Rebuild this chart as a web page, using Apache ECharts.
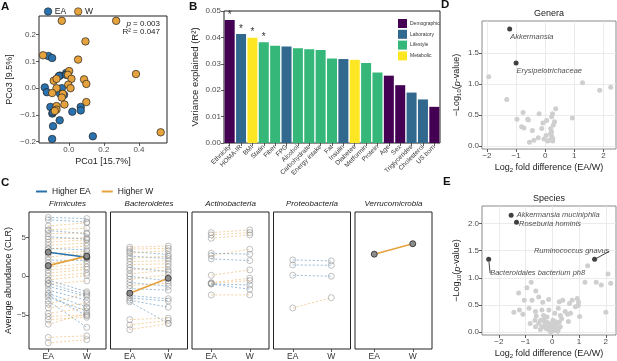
<!DOCTYPE html>
<html lang="en">
<head>
<meta charset="utf-8">
<title>Microbiome panels</title>
<script src="https://cdn.jsdelivr.net/npm/echarts@6/dist/echarts.min.js"></script>
<style>
html, body { margin: 0; padding: 0; background: #fff; }
#main { width: 617px; height: 361px; }
</style>
</head>
<body>
<div id="main"></div>
<script>
// A - PCoA
var pcoaEA = [[-0.116,0.120],[-0.095,0.113],[-0.137,0.003],[-0.125,-0.015],[-0.051,0.047],[-0.057,0.045],[-0.015,0.057],[-0.015,0.050],[-0.040,0.000],[-0.050,-0.020],[-0.027,-0.025],[-0.105,-0.070],[-0.094,-0.095],[-0.090,-0.090],[-0.052,-0.120],[-0.090,-0.142],[0.020,-0.088],[0.068,-0.070],[0.068,-0.083],[0.137,-0.180],[-0.095,-0.190]];
var pcoaW = [[-0.040,0.252],[0.270,0.252],[0.095,0.175],[-0.147,0.123],[0.053,0.107],[0.383,0.053],[0.002,0.064],[-0.005,0.050],[-0.086,0.028],[-0.070,0.035],[0.015,0.035],[0.087,0.033],[0.100,0.016],[-0.003,0.013],[-0.070,0.000],[0.010,0.000],[-0.034,-0.021],[-0.095,-0.018],[-0.040,-0.035],[-0.025,-0.061],[0.100,-0.052],[-0.070,-0.067],[-0.070,-0.080],[-0.080,-0.085],[0.524,-0.165]];

// B - variance explained
var varNames = ['Ethnicity','HOMA-IR','BMI','Statin','Fiber','FPG','Alcohol','Carbohydrate','Energy intake','Fat','Insulin','Diabetes','Metformin','Protein','Age','Sex','Triglycerides','Cholesterol','US born'];
var varR2 = [0.0466,0.0413,0.0399,0.0382,0.0368,0.0366,0.0359,0.0355,0.0352,0.0320,0.0318,0.0315,0.0303,0.0267,0.0255,0.0219,0.0191,0.0165,0.0137];
var varGroup = [0,1,3,2,2,1,2,2,2,2,1,3,2,2,0,0,1,1,0];
var varSig = [1,1,1,1,0,0,0,0,0,0,0,0,0,0,0,0,0,0,0];
var groupNames = ['Demographic','Laboratory','Lifestyle','Metabolic'];

// C - phylum abundances [EA, W]
var phyla = ['Firmicutes','Bacteroidetes','Actinobacteria','Proteobacteria','Verrucomicrobia'];
var firPairs = [[7.6,7.45],[7.3,7.0],[6.5,6.9],[6.0,6.2],[5.9,5.5],[5.5,5.6],[5.1,4.8],[4.8,5.0],[4.4,4.7],[4.0,4.3],[3.6,3.4],[3.5,3.9],[2.9,3.2],[2.5,2.9],[2.1,2.0],[1.7,2.3],[1.2,1.6],[0.8,1.2],[0.4,0.9],[0.0,0.4],[-0.5,0.1],[-1.0,-0.6],[-0.5,-2.0],[-0.9,-2.4],[-1.3,-2.6],[-1.8,-3.1],[-2.2,-4.0],[-2.4,-5.1],[-2.7,-4.5],[-3.2,-6.6],[-3.6,-2.2],[-4.1,-3.5],[-4.8,-4.1],[-5.2,-5.0],[-5.6,-5.3],[-6.2,-4.8],[-7.9,-7.7],[-8.6,-8.2]];
var bacPairs = [[3.75,3.9],[3.5,3.6],[3.2,2.8],[3.0,3.3],[2.6,2.3],[2.3,2.6],[1.9,2.0],[1.5,1.6],[1.1,0.6],[0.8,1.2],[0.3,0.8],[0.0,-0.6],[-0.4,0.2],[-0.8,-1.3],[-1.2,-0.9],[-1.6,-1.8],[-2.5,-2.9],[-2.8,-3.2],[-3.1,-4.0],[-3.3,-6.1],[-5.6,-5.4],[-6.3,-5.7],[-6.9,-6.1]];
var actPairs = [[5.64,5.99],[5.34,5.64],[4.91,5.34],[2.67,3.49],[2.97,2.85],[2.24,2.02],[0.13,0.82],[-0.83,-0.26],[-0.9,-0.57],[-0.99,-1.13],[-1.0,-1.68],[-2.42,-2.40]];
var proPairs = [[2.11,1.98],[1.46,1.42],[0.13,0.0],[-4.1,-2.77]];
var verPairs = [];
var hiPhylum = [0, 0, 1, 4];
var hiPairs = [[3.1,2.46],[1.37,2.6],[-2.2,-0.26],[2.85,4.2]];

// D - genera volcano [log2 FD, -log10 p]
var genGrey = [[-1.94,1.12],[-1.32,0.75],[1.28,1.02],[1.87,0.90],[2.25,0.95],[0.93,0.45],[-0.76,0.54],[-0.97,0.43],[-0.6,0.43],[-0.58,0.42],[-0.21,0.52],[0.36,0.60],[0.25,0.52],[0.22,0.47],[0.05,0.41],[-0.08,0.37],[0.32,0.39],[0.28,0.34],[-0.81,0.31],[-0.73,0.29],[-0.44,0.25],[-0.12,0.28],[0.19,0.28],[0.22,0.23],[0.22,0.16],[0.03,0.17],[-0.04,0.11],[0.08,0.08],[0.26,0.12],[-0.24,0.13],[-0.39,0.09],[-0.54,0.06],[0.26,0.08],[0.15,0.09],[0.18,0.20]];
var genHit = [[-1.22,1.89],[-1.0,1.34]];
var genHitNames = ['Akkermansia','Erysipelotrichaceae'];

// E - species volcano
var spGrey = [[1.32,1.22],[2.08,1.07],[1.22,0.92],[1.64,0.92],[1.83,0.87],[2.18,0.90],[-0.79,0.92],[-0.95,0.82],[-1.26,0.72],[-0.62,0.76],[-1.05,0.59],[-0.76,0.59],[-0.51,0.65],[-0.36,0.55],[-0.14,0.60],[0.26,0.56],[0.39,0.59],[0.74,0.59],[0.93,0.62],[0.98,0.55],[0.97,0.49],[0.64,0.53],[0.86,0.47],[-1.44,0.37],[-1.23,0.41],[-1.10,0.33],[-0.87,0.44],[-0.63,0.38],[-0.39,0.41],[-0.33,0.31],[-0.13,0.41],[0.22,0.44],[0.09,0.35],[0.48,0.38],[0.57,0.33],[0.68,0.35],[1.02,0.29],[0.30,0.31],[2.00,0.37],[-0.65,0.22],[-0.51,0.16],[-0.63,0.10],[-0.31,0.23],[-0.18,0.18],[-0.07,0.12],[0.02,0.22],[0.14,0.16],[-0.39,0.10],[-0.23,0.07],[-0.14,0.05],[-0.01,0.06],[0.11,0.09],[0.22,0.05],[0.04,0.13],[-0.26,0.15],[-0.06,0.01],[0.26,0.19],[-0.44,0.22],[-0.83,0.16],[-0.25,0.08],[-0.10,0.10],[0.05,0.03],[0.15,0.12],[-0.30,0.20],[0.10,0.20],[-0.05,0.15],[0.30,0.10],[-0.45,0.05],[0.20,0.02],[0.00,0.08],[-0.20,0.28],[0.35,0.25],[-0.60,0.30],[0.60,0.20]];
var spHit = [[-1.54,2.15],[-1.34,2.02]];
var spHitNames = ['Akkermansia muciniphila','Roseburia hominis'];
var spHitLinked = [[-2.38,1.34],[1.58,1.34]];
var spHitLinkedNames = ['Bacteroidales bacterium ph8','Ruminococcus gnavus'];

var FONT = '"Liberation Sans", Arial, sans-serif';
var BLUE = '#2a72ad', ORANGE = '#e6a23c';
var groupColors = ['#440154', '#31688e', '#35b779', '#fde725'];

function fmt(d) {
    return function (v) { return (v < 0 ? '\u2212' : '') + Math.abs(v).toFixed(d); };
}
function vAxis(grid, min, max, ticks, dec, extra) {
    var ax = {
        type: 'value', gridIndex: grid, min: min, max: max,
        axisLine: { show: false, onZero: false },
        axisTick: { show: true, length: 3, lineStyle: { color: '#333', width: 0.8 }, customValues: ticks },
        axisLabel: { show: true, fontSize: 8, color: '#4d4d4d', fontFamily: FONT, margin: 3, customValues: ticks, formatter: fmt(dec) },
        splitLine: { show: false },
        nameLocation: 'middle',
        nameTextStyle: { fontSize: 9, color: '#222', fontFamily: FONT }
    };
    for (var k in extra) ax[k] = extra[k];
    return ax;
}
function gridBox(l, t, w, h, col) {
    return { left: l, top: t, width: w, height: h, show: true, borderColor: col, borderWidth: 1, backgroundColor: 'transparent', containLabel: false, outerBoundsMode: 'none' };
}

var facetLeft = [29, 110.5, 192, 273.5, 355];
var grids = [gridBox(39, 16, 128, 127, '#222'), gridBox(224, 11, 216, 132, '#222')];
facetLeft.forEach(function (l) { grids.push(gridBox(l, 212, 77, 137, '#222')); });
grids.push(gridBox(482, 21, 134, 128, '#8a8a8a'));
grids.push(gridBox(482, 206, 134, 129, '#8a8a8a'));

var xAxes = [], yAxes = [];
// A
xAxes.push(vAxis(0, -0.17, 0.56, [0, 0.2, 0.4], 1, { name: 'PCo1 [15.7%]', nameGap: 14 }));
yAxes.push(vAxis(0, -0.205, 0.27, [-0.2, -0.1, 0, 0.1, 0.2], 1, { name: 'PCo3 [9.5%]', nameGap: 25 }));
// B
xAxes.push({
    type: 'category', gridIndex: 1, data: varNames,
    axisLine: { show: false, onZero: false },
    axisTick: { show: true, alignWithLabel: true, length: 3, lineStyle: { color: '#333', width: 0.8 } },
    axisLabel: { interval: 0, rotate: 45, fontSize: 6.5, color: '#333', fontFamily: FONT, margin: 3 }
});
yAxes.push(vAxis(1, 0, 0.05, [0, 0.01, 0.02, 0.03, 0.04, 0.05], 2, {
    name: 'Variance explained (R\u00b2)', nameGap: 24,
    nameTextStyle: { fontSize: 9.5, color: '#222', fontFamily: FONT }
}));
// C facets
phyla.forEach(function (p, f) {
    xAxes.push({
        type: 'category', gridIndex: 2 + f, data: ['EA', 'W'], boundaryGap: true,
        axisLine: { show: false, onZero: false },
        axisTick: { show: true, alignWithLabel: true, length: 3, lineStyle: { color: '#333', width: 0.8 } },
        axisLabel: { fontSize: 8.5, color: '#333', fontFamily: FONT, margin: 3 }
    });
    var ya = vAxis(2 + f, -9.4, 8.3, [-5, 0, 5], 0, {});
    if (f === 0) {
        ya.name = 'Average abundance (CLR)';
        ya.nameGap = 13;
    } else {
        ya.axisTick = { show: false };
        ya.axisLabel = { show: false };
    }
    yAxes.push(ya);
});
// D, E
var majorGrid = { show: true, lineStyle: { color: '#e6e6e6', width: 0.8 } };
xAxes.push(vAxis(7, -2.17, 2.43, [-2, -1, 0, 1, 2], 0, { name: 'Log{s|2} fold difference (EA/W)', nameGap: 14, splitLine: majorGrid }));
yAxes.push(vAxis(7, -0.05, 2.02, [0, 0.5, 1, 1.5], 1, { name: '\u2212Log{s|10}({i|p}-value)', nameGap: 20, splitLine: majorGrid }));
xAxes.push(vAxis(8, -2.63, 2.38, [-2, -1, 0, 1, 2], 0, { name: 'Log{s|2} fold difference (EA/W)', nameGap: 14, splitLine: majorGrid }));
yAxes.push(vAxis(8, -0.05, 2.32, [0, 0.5, 1, 1.5, 2], 1, { name: '\u2212Log{s|10}({i|p}-value)', nameGap: 20, splitLine: majorGrid }));
[7, 8].forEach(function (g) {
    var rich = { s: { fontSize: 6, verticalAlign: 'bottom', padding: [4, 0, 0, 0], fontFamily: FONT, color: '#222' }, i: { fontStyle: 'italic', fontSize: 9, fontFamily: FONT, color: '#222' } };
    xAxes[g].nameTextStyle = { fontSize: 9, color: '#222', fontFamily: FONT, rich: rich };
    yAxes[g].nameTextStyle = { fontSize: 9, color: '#222', fontFamily: FONT, rich: rich };
});

var series = [];
// A scatter
series.push({ type: 'scatter', name: 'EA', xAxisIndex: 0, yAxisIndex: 0, data: pcoaEA, symbolSize: 7.5, itemStyle: { color: BLUE, borderColor: '#222', borderWidth: 0.7, opacity: 1 } });
series.push({ type: 'scatter', name: 'W', xAxisIndex: 0, yAxisIndex: 0, data: pcoaW, symbolSize: 7.5, itemStyle: { color: ORANGE, borderColor: '#222', borderWidth: 0.7, opacity: 1 } });
// B bars
groupNames.forEach(function (gn, g) {
    series.push({
        type: 'bar', name: gn, stack: 'r2', xAxisIndex: 1, yAxisIndex: 1, barCategoryGap: '12%',
        itemStyle: { color: groupColors[g] },
        label: { show: false, position: 'top', formatter: '*', fontSize: 10, color: '#333', distance: 0 },
        data: varR2.map(function (v, i) {
            if (varGroup[i] !== g) return '-';
            return varSig[i] ? { value: v, label: { show: true } } : v;
        })
    });
});
// C dashed pairs
[firPairs, bacPairs, actPairs, proPairs, verPairs].forEach(function (pairs, f) {
    pairs.forEach(function (p, j) {
        var c = p[0] > p[1] ? 'rgba(42,114,173,0.55)' : 'rgba(230,162,60,0.55)';
        series.push({
            type: 'line', name: 'c' + f + '_' + j, xAxisIndex: 2 + f, yAxisIndex: 2 + f, data: p,
            symbol: 'circle', symbolSize: 6, showSymbol: true, silent: true,
            itemStyle: { color: 'rgba(255,255,255,0)', borderColor: 'rgba(140,140,140,0.6)', borderWidth: 0.9 },
            lineStyle: { color: c, width: 0.9, type: [2, 2] }
        });
    });
});
hiPairs.forEach(function (p, j) {
    var up = p[1] > p[0];
    series.push({
        type: 'line', name: up ? 'Higher W' : 'Higher EA', xAxisIndex: 2 + hiPhylum[j], yAxisIndex: 2 + hiPhylum[j], data: p,
        symbol: 'circle', symbolSize: 6, z: 5,
        itemStyle: { color: '#8c8c8c', borderColor: '#333', borderWidth: 0.9 },
        lineStyle: { color: up ? ORANGE : BLUE, width: 1.6 }
    });
});
// D
series.push({ type: 'scatter', name: 'dGrey', xAxisIndex: 7, yAxisIndex: 7, data: genGrey, symbolSize: 5, itemStyle: { color: '#cfcfcf', opacity: 1 } });
var dLabelPos = [[3, 6.5], [3, 6]];
series.push({
    type: 'scatter', name: 'dHit', xAxisIndex: 7, yAxisIndex: 7, symbolSize: 5, itemStyle: { color: '#111' },
    data: genHit.map(function (d, i) {
        return { value: d, label: { show: true, formatter: genHitNames[i], position: dLabelPos[i], align: 'left', verticalAlign: 'top' } };
    }),
    label: { fontSize: 7.5, fontStyle: 'italic', color: '#222', fontFamily: FONT }
});
// E
series.push({ type: 'scatter', name: 'eGrey', xAxisIndex: 8, yAxisIndex: 8, data: spGrey, symbolSize: 5, itemStyle: { color: '#cfcfcf', opacity: 1 } });
var eLabelPos = [[8, 2.5], [5, 4.5]];
series.push({
    type: 'scatter', name: 'eHit', xAxisIndex: 8, yAxisIndex: 8, symbolSize: 5, itemStyle: { color: '#111' },
    data: spHit.map(function (d, i) {
        return { value: d, label: { show: true, formatter: spHitNames[i], position: eLabelPos[i], align: 'left', verticalAlign: 'middle' } };
    }),
    label: { fontSize: 7.5, fontStyle: 'italic', color: '#222', fontFamily: FONT }
});
var eShift = [[49, 14], [-23, -8]];
series.push({
    type: 'scatter', name: 'eHit2', xAxisIndex: 8, yAxisIndex: 8, symbolSize: 5, itemStyle: { color: '#111' },
    data: spHitLinked.map(function (d, i) { return { value: d, name: spHitLinkedNames[i] }; }),
    label: { show: true, position: 'inside', formatter: '{b}', fontSize: 7.5, fontStyle: 'italic', color: '#222', fontFamily: FONT },
    labelLine: { show: true, lineStyle: { color: '#111', width: 0.8 } },
    labelLayout: function (params) { return { dx: eShift[params.dataIndex][0], dy: eShift[params.dataIndex][1] }; }
});

var graphics = [];
[['A', 1, 0.5], ['B', 189, 0.5], ['C', 1, 177], ['D', 441, -1], ['E', 443, 176]].forEach(function (t) {
    graphics.push({ type: 'text', left: t[1], top: t[2], style: { text: t[0], fontSize: 11.5, fontWeight: 'bold', fill: '#111', fontFamily: FONT } });
});
graphics.push({ type: 'text', x: 160, y: 20, style: { text: '{i|p} = 0.003', align: 'right', fontSize: 8, fill: '#222', fontFamily: FONT, rich: { i: { fontStyle: 'italic', fontSize: 8, fontFamily: FONT } } } });
graphics.push({ type: 'text', x: 160, y: 28, style: { text: 'R\u00b2 = 0.047', align: 'right', fontSize: 8, fill: '#222', fontFamily: FONT } });
graphics.push({ type: 'text', x: 549, y: 9.5, style: { text: 'Genera', align: 'center', fontSize: 9, fill: '#222', fontFamily: FONT } });
graphics.push({ type: 'text', x: 549, y: 194.5, style: { text: 'Species', align: 'center', fontSize: 9, fill: '#222', fontFamily: FONT } });
phyla.forEach(function (p, f) {
    graphics.push({ type: 'text', x: facetLeft[f] + 38.5, y: 199.5, style: { text: p, align: 'center', fontSize: 8, fontStyle: 'italic', fill: '#222', fontFamily: FONT } });
});

var option = {
    animation: false,
    backgroundColor: '#fff',
    textStyle: { fontFamily: FONT },
    grid: grids,
    xAxis: xAxes,
    yAxis: yAxes,
    legend: [{
        data: ['EA', 'W'], left: 39, top: 2, itemWidth: 7.5, itemHeight: 7.5, itemGap: 8, icon: 'circle', selectedMode: false,
        itemStyle: { borderWidth: 0.6, borderColor: '#222' },
        textStyle: { fontSize: 8.5, color: '#222', fontFamily: FONT, padding: [0, 0, 0, -2] }
    }, {
        data: groupNames, left: 393, top: 14, orient: 'vertical', itemWidth: 9, itemHeight: 9, itemGap: 1.8, icon: 'rect', selectedMode: false,
        textStyle: { fontSize: 5, color: '#333', fontFamily: FONT, padding: [0, 0, 0, -2] }
    }, {
        data: [
            { name: 'Higher EA', itemStyle: { color: BLUE, borderColor: BLUE, borderWidth: 0 } },
            { name: 'Higher W', itemStyle: { color: ORANGE, borderColor: ORANGE, borderWidth: 0 } }
        ],
        left: 31, top: 182, itemWidth: 11, itemHeight: 2, itemGap: 11, icon: 'rect', selectedMode: false,
        textStyle: { fontSize: 8.5, color: '#222', fontFamily: FONT }
    }],
    graphic: graphics,
    series: series
};

var mychart = echarts.init(document.getElementById('main'));
mychart.setOption(option);
</script>
</body>
</html>
